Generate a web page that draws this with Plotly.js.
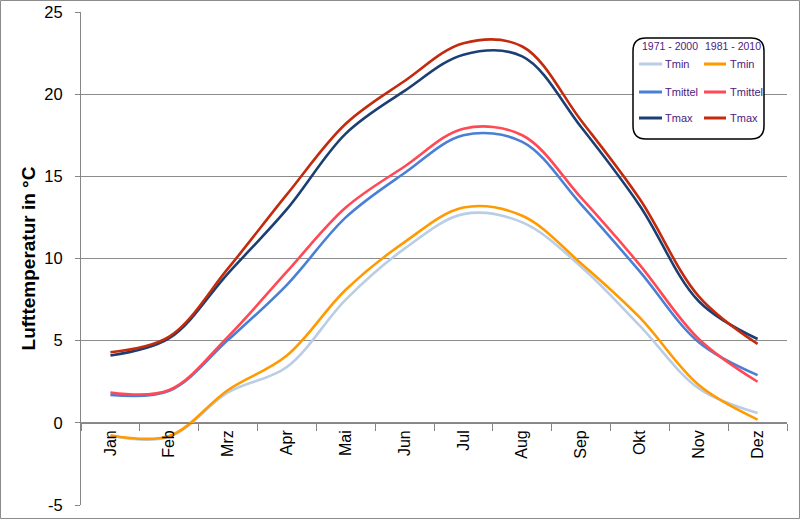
<!DOCTYPE html>
<html>
<head>
<meta charset="utf-8">
<script src="https://cdn.plot.ly/plotly-3.0.1.min.js"></script>
<style>
  html, body { margin: 0; padding: 0; background: #fff; }
  #chart { width: 800px; height: 519px; }
</style>
</head>
<body>
<div id="chart"></div>
<script>
// ---- data ----
const months = ["Jan", "Feb", "Mrz", "Apr", "Mai", "Jun", "Jul", "Aug", "Sep", "Okt", "Nov", "Dez"];

const tmin_1971 = [-0.8, -0.85, 1.85, 3.4, 7.5, 10.6, 12.7, 12.2, 9.5, 5.9, 2.1, 0.6];
const tmittel_1971 = [1.7, 1.95, 5.05, 8.4, 12.5, 15.2, 17.5, 17.1, 13.3, 9.2, 4.9, 2.9];
const tmax_1971 = [4.1, 5.15, 9.1, 13.0, 17.6, 20.2, 22.4, 22.3, 18.0, 13.2, 7.4, 5.1];

const tmin_1981 = [-0.75, -0.8, 2.0, 4.1, 8.1, 11.0, 13.1, 12.6, 9.7, 6.4, 2.3, 0.2];
const tmittel_1981 = [1.85, 2.0, 5.25, 9.2, 13.1, 15.6, 17.9, 17.5, 13.7, 9.6, 5.1, 2.5];
const tmax_1981 = [4.3, 5.25, 9.4, 13.9, 18.2, 20.8, 23.1, 22.9, 18.4, 13.6, 7.7, 4.8];

const yTickVals = [-5, 0, 5, 10, 15, 20, 25];
const yTickText = ["-5", "0", "5", "10", "15", "20", "25"];

const periods = ["1971 - 2000", "1981 - 2010"];
const seriesNames = ["Tmin", "Tmittel", "Tmax"];
const yTitle = "Lufttemperatur in °C";

const colors1971 = ["#b9cde5", "#4a7fd6", "#1c3f73"];
const colors1981 = ["#ff9a00", "#ff4a55", "#c42a0c"];

// ---- geometry helpers ----
const W = 800, H = 519, L = 81, R = 13, T = 12, B = 14;
const pw = W - L - R, ph = H - T - B;
const px = p => (p - L) / pw;
const py = p => (H - B - p) / ph;

function roundRect(x0, y0, x1, y1, r) {
  const P = (x, y) => px(x).toFixed(5) + "," + py(y).toFixed(5);
  return "M" + P(x0 + r, y0) + " L" + P(x1 - r, y0) + " Q" + P(x1, y0) + " " + P(x1, y0 + r) +
    " L" + P(x1, y1 - r) + " Q" + P(x1, y1) + " " + P(x1 - r, y1) +
    " L" + P(x0 + r, y1) + " Q" + P(x0, y1) + " " + P(x0, y1 - r) +
    " L" + P(x0, y0 + r) + " Q" + P(x0, y0) + " " + P(x0 + r, y0) + " Z";
}

const FONT = "Liberation Sans, Arial, sans-serif";
const legendTextColor = "#4b2282";

function mk(y, name, color) {
  return {
    x: months, y: y, type: "scatter", mode: "lines", name: name,
    line: { color: color, width: 2.6, shape: "spline", smoothing: 1 },
    hoverinfo: "skip", showlegend: false
  };
}

const data1971 = [tmin_1971, tmittel_1971, tmax_1971];
const data1981 = [tmin_1981, tmittel_1981, tmax_1981];

const traces = [];
for (let i = 0; i < 3; i++) traces.push(mk(data1971[i], seriesNames[i] + " " + periods[0], colors1971[i]));
for (let i = 0; i < 3; i++) traces.push(mk(data1981[i], seriesNames[i] + " " + periods[1], colors1981[i]));

// ---- custom legend (rounded box with two columns) ----
const shapes = [
  {
    type: "path", xref: "paper", yref: "paper", layer: "above",
    path: roundRect(633, 38, 764, 139, 13),
    line: { color: "#000", width: 1.5 }, fillcolor: "#fff"
  },
  {
    type: "rect", xref: "paper", yref: "paper", layer: "above",
    x0: px(0.5), x1: px(799.5), y0: py(518.5), y1: py(0.5),
    line: { color: "#8c8c8c", width: 1 }, fillcolor: "rgba(0,0,0,0)"
  }
];
const annotations = [];
const colX = [[639, 662, 663, 640], [704, 726, 728, 703]]; // line x0, x1, text x, header x
const rowY = [64, 92, 118];
[colors1971, colors1981].forEach((cols, c) => {
  annotations.push({
    xref: "paper", yref: "paper", x: px(colX[c][3]), y: py(46),
    xanchor: "left", yanchor: "middle", showarrow: false,
    text: periods[c], font: { family: FONT, size: 10.5, color: legendTextColor }
  });
  for (let i = 0; i < 3; i++) {
    shapes.push({
      type: "line", xref: "paper", yref: "paper", layer: "above",
      x0: px(colX[c][0]), x1: px(colX[c][1]), y0: py(rowY[i]), y1: py(rowY[i]),
      line: { color: cols[i], width: 3 }
    });
    annotations.push({
      xref: "paper", yref: "paper", x: px(colX[c][2]), y: py(rowY[i]),
      xanchor: "left", yanchor: "middle", showarrow: false,
      text: seriesNames[i], font: { family: FONT, size: 11, color: legendTextColor }
    });
  }
});

const layout = {
  width: W, height: H,
  margin: { l: L, r: R, t: T, b: B },
  paper_bgcolor: "#fff", plot_bgcolor: "#fff",
  font: { family: FONT, color: "#000" },
  showlegend: false,
  xaxis: {
    type: "category",
    range: [-0.5, 11.5],
    anchor: "free", position: 5 / 30,
    showline: true, linecolor: "#868686", linewidth: 1,
    ticks: "outside", ticklen: 7, tickcolor: "#868686", tickwidth: 1,
    tickson: "boundaries",
    tickangle: -90,
    ticklabelstandoff: 0,
    tickfont: { family: FONT, size: 16, color: "#000" },
    showgrid: false, zeroline: false,
    fixedrange: true
  },
  yaxis: {
    range: [-5, 25],
    tickmode: "array", tickvals: yTickVals, ticktext: yTickText,
    showline: true, linecolor: "#868686", linewidth: 1,
    ticks: "outside", ticklen: 5, tickcolor: "#868686",
    ticklabelstandoff: 9,
    tickfont: { family: FONT, size: 16.5, color: "#000" },
    showgrid: true, gridcolor: "#8c8c8c", gridwidth: 1,
    zeroline: false,
    title: { text: yTitle, font: { family: FONT, size: 19, color: "#000", weight: "bold" }, standoff: 3 },
    fixedrange: true
  },
  shapes: shapes,
  annotations: annotations
};

Plotly.newPlot("chart", traces, layout, { displayModeBar: false, staticPlot: true });
</script>
</body>
</html>
